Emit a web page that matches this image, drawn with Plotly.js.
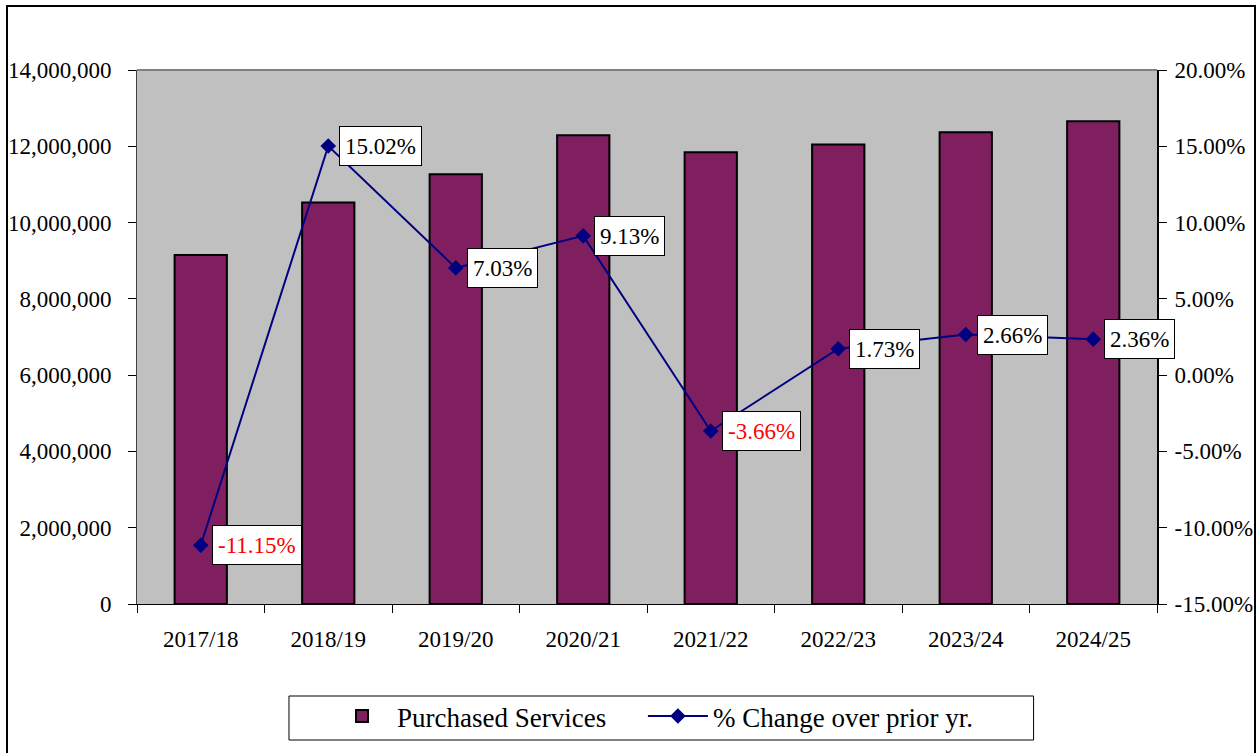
<!DOCTYPE html>
<html>
<head>
<meta charset="utf-8">
<script src="https://cdn.plot.ly/plotly-3.0.1.min.js"></script>
<style>
  html, body { margin: 0; padding: 0; background: #fff; }
  #frame { position: absolute; left: 6px; top: 5px; width: 1246px; height: 760px;
           border-left: 2px solid #000; border-top: 2px solid #000; border-right: 2px solid #000; }
  #chart { position: absolute; left: 0; top: 0; width: 1256px; height: 753px; }
</style>
</head>
<body>
<div id="frame"></div>
<div id="chart"></div>
<script>
const years = ["2017/18", "2018/19", "2019/20", "2020/21", "2021/22", "2022/23", "2023/24", "2024/25"];
const purchasedServices = [9150000, 10524000, 11264000, 12292000, 11842000, 12047000, 12367000, 12659000];
const pctChange = [-0.1115, 0.1502, 0.0703, 0.0913, -0.0366, 0.0173, 0.0266, 0.0236];
const pctLabels = ["-11.15%", "15.02%", "7.03%", "9.13%", "-3.66%", "1.73%", "2.66%", "2.36%"];
const rightTickVals = [-0.15, -0.10, -0.05, 0, 0.05, 0.10, 0.15, 0.20];
const rightTickText = ["-15.00%", "-10.00%", "-5.00%", "0.00%", "5.00%", "10.00%", "15.00%", "20.00%"];

const FONT = "'Liberation Serif', 'Times New Roman', serif";

const traces = [
  {
    type: "bar", name: "Purchased Services", x: years, y: purchasedServices,
    marker: { color: "#7F1F5F", line: { color: "#000", width: 2 } },
    hoverinfo: "skip", legend: "legend"
  },
  {
    type: "scatter", mode: "lines+markers", name: "% Change over prior yr.",
    x: years, y: pctChange, yaxis: "y2",
    line: { color: "#000080", width: 2 },
    marker: { symbol: "diamond", size: 12, color: "#000080" },
    hoverinfo: "skip", legend: "legend2"
  }
];

const annotations = years.map((yr, i) => ({
  x: yr, y: pctChange[i], xref: "x", yref: "y2",
  text: pctLabels[i], showarrow: false,
  xanchor: "left", yanchor: "middle", xshift: 11,
  font: { family: FONT, size: 23, color: pctChange[i] < 0 ? "#FF0000" : "#000" },
  bgcolor: "#fff", bordercolor: "#000", borderwidth: 1, borderpad: 5, height: 28
}));

const legendBase = {
  orientation: "h", xanchor: "left",
  yref: "container", y: 0.081, yanchor: "top",
  borderwidth: 0, bgcolor: "rgba(0,0,0,0)",
  font: { family: FONT, size: 27, color: "#000" },
  itemwidth: 60
};

const layout = {
  width: 1256, height: 753,
  margin: { l: 137, r: 99, t: 70, b: 149, autoexpand: false },
  paper_bgcolor: "rgba(0,0,0,0)",
  plot_bgcolor: "#C0C0C0",
  font: { family: FONT, size: 23, color: "#000" },
  bargap: 0.59,
  showlegend: true,
  legend: Object.assign({}, legendBase, { x: 0.1863 }),
  legend2: Object.assign({}, legendBase, { x: 0.496 }),
  xaxis: {
    type: "category", range: [-0.5, 7.5], tickson: "boundaries", ticks: "outside", ticklen: 8,
    tickcolor: "#000", showline: true, linecolor: "#000", linewidth: 1,
    showgrid: false, tickfont: { family: FONT, size: 23 }, zeroline: false,
    ticklabelstandoff: 14, automargin: false
  },
  yaxis: {
    range: [0, 14000000], dtick: 2000000, tickformat: ",d",
    ticks: "outside", ticklen: 8, tickcolor: "#000",
    showline: true, linecolor: "#404040", linewidth: 1,
    showgrid: false, zeroline: false, tickfont: { family: FONT, size: 23 },
    ticklabelstandoff: 12, automargin: false
  },
  yaxis2: {
    overlaying: "y", side: "right", range: [-0.15, 0.20],
    tickvals: rightTickVals, ticktext: rightTickText,
    ticks: "outside", ticklen: 8, tickcolor: "#000",
    showline: true, linecolor: "#000", linewidth: 2,
    showgrid: false, zeroline: false, tickfont: { family: FONT, size: 23 },
    ticklabelstandoff: 3, automargin: false
  },
  shapes: [
    { type: "line", xref: "paper", yref: "paper", x0: 0, x1: 1, y0: 1, y1: 1,
      line: { color: "#808080", width: 2 } },
    { type: "rect", xref: "paper", yref: "paper", x0: 0.149, x1: 0.879, y0: -0.2547, y1: -0.1723,
      line: { color: "#000", width: 1 }, fillcolor: "#fff", layer: "below" }
  ],
  annotations: annotations
};

Plotly.newPlot("chart", traces, layout, { displayModeBar: false, staticPlot: true });
</script>
</body>
</html>
